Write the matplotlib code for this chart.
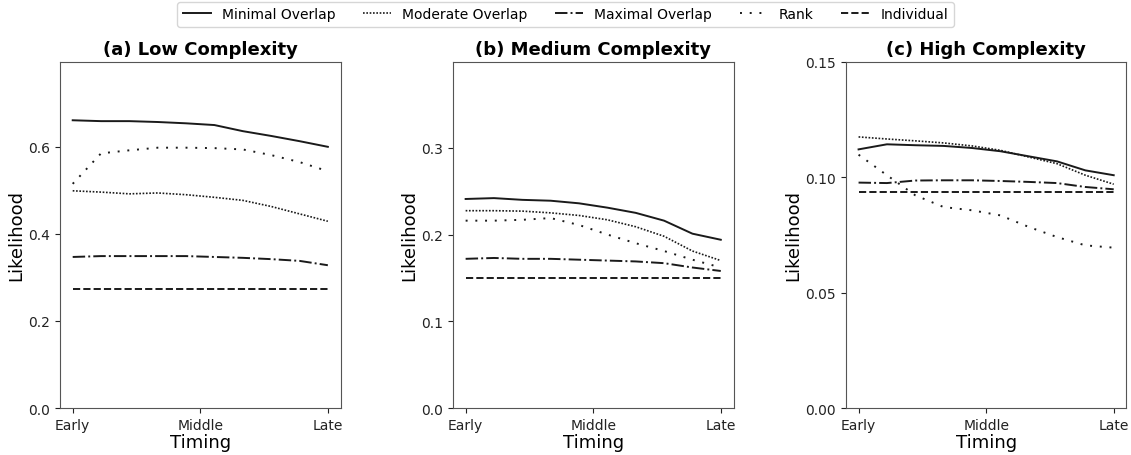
import matplotlib
matplotlib.use("Agg")
import matplotlib.pyplot as plt
import numpy as np

# data, 10 timing steps per panel
timing_ticks = ["Early", "Middle", "Late"]
series_names = ["Minimal Overlap", "Moderate Overlap", "Maximal Overlap", "Rank", "Individual"]
titles = ["(a) Low Complexity", "(b) Medium Complexity", "(c) High Complexity"]

low_minimal = [0.661, 0.659, 0.659, 0.657, 0.654, 0.650, 0.636, 0.625, 0.613, 0.600]
low_moderate = [0.499, 0.496, 0.492, 0.494, 0.490, 0.484, 0.477, 0.463, 0.446, 0.429]
low_maximal = [0.347, 0.349, 0.349, 0.349, 0.349, 0.347, 0.345, 0.342, 0.338, 0.328]
low_rank = [0.515, 0.585, 0.592, 0.598, 0.598, 0.597, 0.594, 0.581, 0.565, 0.544]
low_individual = [0.273] * 10

med_minimal = [0.241, 0.242, 0.240, 0.239, 0.236, 0.231, 0.225, 0.216, 0.201, 0.194]
med_moderate = [0.2275, 0.2275, 0.227, 0.225, 0.222, 0.217, 0.209, 0.198, 0.181, 0.170]
med_maximal = [0.172, 0.173, 0.172, 0.172, 0.171, 0.170, 0.169, 0.167, 0.162, 0.158]
med_rank = [0.216, 0.216, 0.217, 0.219, 0.211, 0.200, 0.190, 0.181, 0.171, 0.162]
med_individual = [0.150] * 10

high_minimal = [0.1121, 0.1143, 0.1139, 0.1136, 0.1127, 0.1113, 0.1091, 0.1069, 0.1030, 0.1009]
high_moderate = [0.1175, 0.1166, 0.1158, 0.1149, 0.1136, 0.1117, 0.1088, 0.1059, 0.1009, 0.0970]
high_maximal = [0.0977, 0.0975, 0.0986, 0.0987, 0.0987, 0.0984, 0.0980, 0.0975, 0.0958, 0.0948]
high_rank = [0.1098, 0.1009, 0.0922, 0.0871, 0.0857, 0.0835, 0.0785, 0.0741, 0.0705, 0.0695]
high_individual = [0.0938] * 10

panels = [
    [low_minimal, low_moderate, low_maximal, low_rank, low_individual],
    [med_minimal, med_moderate, med_maximal, med_rank, med_individual],
    [high_minimal, high_moderate, high_maximal, high_rank, high_individual],
]
ylims = [(0, 0.795), (0, 0.399), (0, 0.15)]
yticks = [[0.0, 0.2, 0.4, 0.6], [0.0, 0.1, 0.2, 0.3], [0.0, 0.05, 0.10, 0.15]]
ytick_fmt = ["%.1f", "%.1f", "%.2f"]

styles = ["-", (0, (1, 1)), "-.", (0, (1, 4)), "--"]
widths = [1.4, 1.2, 1.4, 1.4, 1.4]

fig, axes = plt.subplots(1, 3, figsize=(11.31, 4.56), dpi=100)
fig.subplots_adjust(left=0.053, right=0.996, top=0.862, bottom=0.103, wspace=0.4)

x = np.arange(10)
for ax, data, title, yl, yt, fmt in zip(axes, panels, titles, ylims, yticks, ytick_fmt):
    for vals, name, ls, lw in zip(data, series_names, styles, widths):
        ax.plot(x, vals, color="#1a1a1a", linestyle=ls, linewidth=lw, label=name)
    ax.set_ylim(*yl)
    ax.set_yticks(yt)
    ax.set_yticklabels([fmt % v for v in yt])
    ax.set_xticks([0, 4.5, 9])
    ax.set_xticklabels(timing_ticks)
    ax.tick_params(labelsize=10, colors="#222222")
    ax.set_xlabel("Timing", fontsize=13, labelpad=1)
    ax.set_ylabel("Likelihood", fontsize=13, labelpad=2)
    ax.set_title(title, fontsize=13, fontweight="bold")
    for s in ax.spines.values():
        s.set_color("#555555")

handles, labels = axes[0].get_legend_handles_labels()
fig.legend(handles, labels, loc="upper center", ncol=5, fontsize=10,
           bbox_to_anchor=(0.5, 1.0), frameon=True, borderaxespad=0.2)

fig.savefig("out.png", dpi=100)
